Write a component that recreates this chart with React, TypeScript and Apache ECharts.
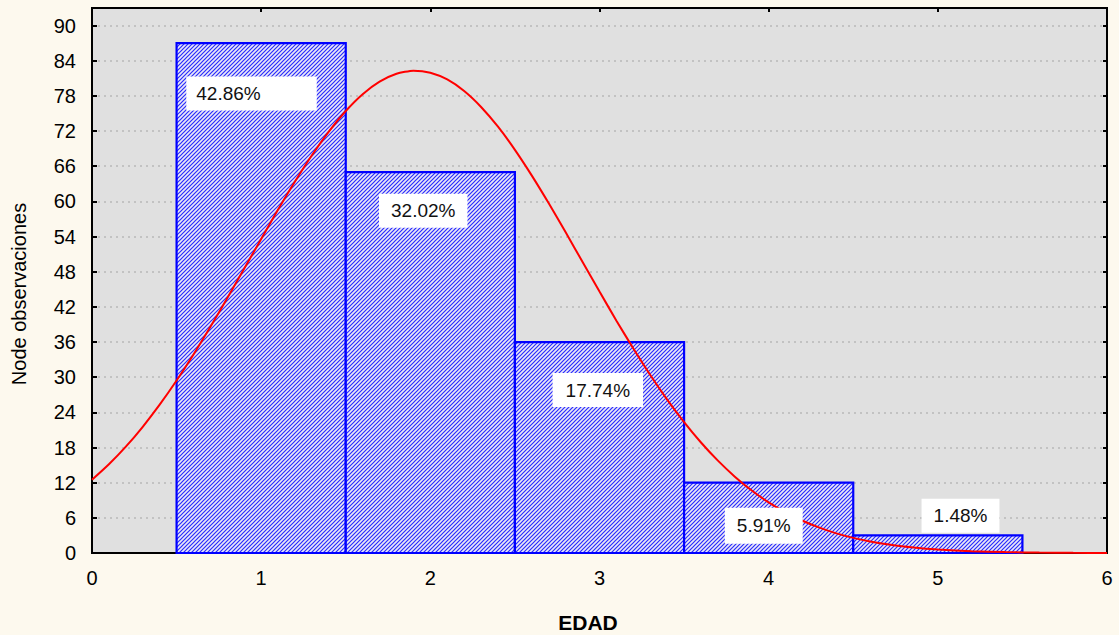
import React, { useEffect, useRef } from "react";
import * as echarts from "echarts";

// Histogram bins (class centres) and observed counts
const binCenters = [1, 2, 3, 4, 5];
const counts = [87, 65, 36, 12, 3];
const percentLabels = ["42.86%", "32.02%", "17.74%", "5.91%", "1.48%"];
// Annotation anchors (data coordinates) for the percentage boxes
const labelX = [0.943, 1.958, 2.99, 3.971, 5.134];
const labelY = [78.4, 58.4, 27.8, 4.66, 6.37];

// Fitted normal curve
const curveX = [
  0, 0.1, 0.2, 0.3, 0.4, 0.5, 0.6, 0.7, 0.8, 0.9,
  1, 1.1, 1.2, 1.3, 1.4, 1.5, 1.6, 1.7, 1.8, 1.9,
  2, 2.1, 2.2, 2.3, 2.4, 2.5, 2.6, 2.7, 2.8, 2.9,
  3, 3.1, 3.2, 3.3, 3.4, 3.5, 3.6, 3.7, 3.8, 3.9,
  4, 4.1, 4.2, 4.3, 4.4, 4.5, 4.6, 4.7, 4.8, 4.9,
  5, 5.2, 5.4, 5.6, 5.8, 6,
];
const curveY = [
  12.48, 15.13, 18.14, 21.54, 25.31, 29.43, 33.87, 38.59, 43.5, 48.54,
  53.6, 58.6, 63.39, 67.87, 71.92, 75.42, 78.29, 80.43, 81.78, 82.3,
  81.96, 80.8, 78.83, 76.11, 72.74, 68.8, 64.4, 59.67, 54.72, 49.66,
  44.61, 39.65, 34.89, 30.38, 26.18, 22.34, 18.86, 15.76, 13.03, 10.66,
  8.64, 6.93, 5.5, 4.32, 3.35, 2.58, 1.97, 1.48, 1.1, 0.82,
  0.6, 0.31, 0.15, 0.07, 0.03, 0.01,
];

const xMin = 0, xMax = 6, xStep = 1;
const yMin = 0, yMax = 93, yStep = 6;

const FONT = "Arial, 'Liberation Sans', sans-serif";

function makeHatch(): HTMLCanvasElement {
  const c = document.createElement("canvas");
  c.width = 4;
  c.height = 4;
  const g = c.getContext("2d")!;
  g.fillStyle = "#eaeaf6";
  g.fillRect(0, 0, 4, 4);
  g.strokeStyle = "#2a2aff";
  g.lineWidth = 1.2;
  g.beginPath();
  g.moveTo(-1, 5); g.lineTo(5, -1);
  g.moveTo(-1, 1); g.lineTo(1, -1);
  g.moveTo(3, 5); g.lineTo(5, 3);
  g.stroke();
  return c;
}

export default function App() {
  const ref = useRef<HTMLDivElement>(null);
  useEffect(() => {
    if (!ref.current) return;
    const chart = echarts.init(ref.current, undefined, { renderer: "svg" });
    const hatch = makeHatch();
    const labelPad = [
      [6, 56, 6, 10],
      [6, 12, 6, 12],
      [6, 13, 6, 13],
      [7, 12, 7, 12],
      [6, 12, 6, 12],
    ];
    const option: any = {
      animation: false,
      backgroundColor: "#fdf9ee",
      grid: {
        left: 92,
        top: 8,
        right: 12,
        bottom: 82,
        show: true,
        backgroundColor: "#e0e0e0",
        borderColor: "#000",
        borderWidth: 2,
        containLabel: false,
      },
      xAxis: [
        {
          type: "value",
          min: xMin,
          max: xMax,
          interval: xStep,
          axisLine: { show: true, lineStyle: { color: "#000", width: 2 } },
          axisTick: { show: true, inside: true, length: 5, lineStyle: { color: "#000", width: 2 } },
          axisLabel: { show: true, color: "#000", fontSize: 20, fontFamily: FONT, margin: 15 },
          splitLine: { show: false },
        },
        {
          type: "value",
          position: "top",
          min: xMin,
          max: xMax,
          interval: xStep,
          axisLine: { show: true, onZero: false, lineStyle: { color: "#000", width: 2 } },
          axisTick: { show: true, inside: true, length: 4, lineStyle: { color: "#000", width: 2 } },
          axisLabel: { show: false },
          splitLine: { show: false },
        },
      ],
      yAxis: [
        {
          type: "value",
          min: yMin,
          max: yMax,
          interval: yStep,
          axisLine: { show: true, lineStyle: { color: "#000", width: 2 } },
          axisTick: { show: true, inside: true, length: 5, lineStyle: { color: "#000", width: 2 } },
          axisLabel: { show: true, color: "#000", fontSize: 20, fontFamily: FONT, margin: 16, showMaxLabel: false },
          splitLine: { show: true, lineStyle: { color: "#b8b8b8", type: [2, 4], width: 1.5 } },
        },
        {
          type: "value",
          position: "right",
          min: yMin,
          max: yMax,
          interval: yStep,
          axisLine: { show: true, onZero: false, lineStyle: { color: "#000", width: 2 } },
          axisTick: { show: true, inside: true, length: 4, lineStyle: { color: "#000", width: 2 } },
          axisLabel: { show: false },
          splitLine: { show: false },
        },
      ],
      series: [
        {
          type: "custom",
          xAxisIndex: 0,
          yAxisIndex: 0,
          z: 2,
          data: binCenters.map((c, i) => [c, counts[i]]),
          renderItem: (_p: any, api: any) => {
            const x = api.value(0);
            const v = api.value(1);
            const p0 = api.coord([x - 0.5, v]);
            const p1 = api.coord([x + 0.5, 0]);
            return {
              type: "rect",
              shape: { x: p0[0], y: p0[1], width: p1[0] - p0[0], height: p1[1] - p0[1] },
              style: {
                fill: { image: hatch, repeat: "repeat" },
                stroke: "#0000ff",
                lineWidth: 2.2,
              },
            };
          },
        },
        {
          type: "line",
          xAxisIndex: 0,
          yAxisIndex: 0,
          z: 3,
          smooth: 0.2,
          showSymbol: false,
          symbol: "none",
          lineStyle: { color: "#ff0000", width: 2 },
          data: curveX.map((x, i) => [x, curveY[i]]),
        },
        {
          type: "scatter",
          xAxisIndex: 0,
          yAxisIndex: 0,
          z: 5,
          symbolSize: 0,
          itemStyle: { opacity: 1 },
          emphasis: { disabled: true },
          data: labelX.map((x, i) => ({
            value: [x, labelY[i]],
            label: { padding: labelPad[i] },
          })),
          label: {
            show: true,
            position: "inside",
            formatter: (p: any) => percentLabels[p.dataIndex],
            backgroundColor: "#ffffff",
            color: "#111111",
            opacity: 1,
            fontSize: 19,
            lineHeight: 22,
            fontFamily: FONT,
          },
        },
      ],
      graphic: [
        {
          type: "text",
          x: 19,
          y: 294,
          rotation: Math.PI / 2,
          style: {
            text: "Node observaciones",
            fontSize: 20,
            fontFamily: FONT,
            fill: "#000",
            align: "center",
            verticalAlign: "middle",
          },
        },
        {
          type: "text",
          x: 588,
          y: 622,
          style: {
            text: "EDAD",
            fontSize: 21,
            fontWeight: "bold",
            fontFamily: FONT,
            fill: "#000",
            align: "center",
            verticalAlign: "middle",
          },
        },
      ],
    };
    chart.setOption(option);
    return () => chart.dispose();
  }, []);
  return (
    <div
      ref={ref}
      style={{ position: "absolute", left: 0, top: 0, width: 1119, height: 635 }}
    />
  );
}
